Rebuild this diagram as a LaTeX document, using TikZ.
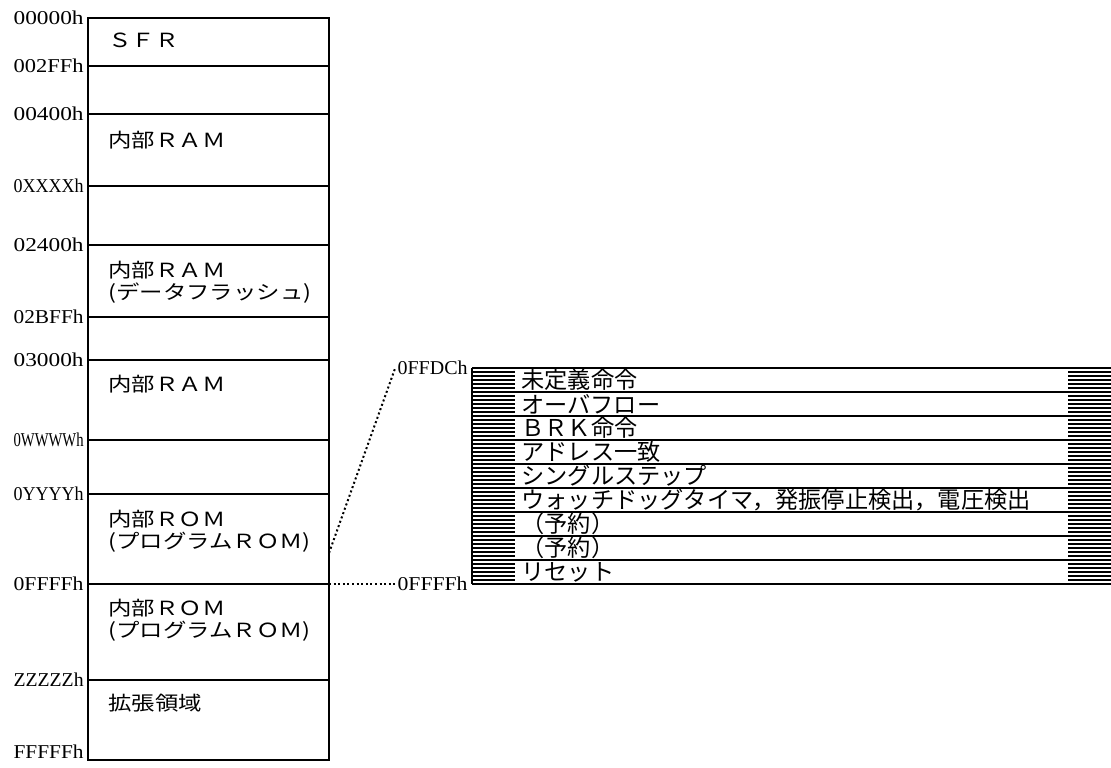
\documentclass[tikz,border=0pt]{standalone}
\usepackage{fontspec}
\usepackage{graphicx}
\setmainfont{Liberation Serif}
\newfontfamily\jpwide{Noto Sans CJK JP}[FakeStretch=1.2]
\newfontfamily\jpnorm{Noto Sans CJK JP}
\usetikzlibrary{calc}
\newcommand{\addrlabel}[1]{\resizebox{35pt}{6.8pt}{#1}}

\begin{document}
\begin{tikzpicture}[x=0.5pt,y=-0.5pt,
  addr/.style={anchor=east,inner sep=1pt,font=\fontsize{9.7}{11}\selectfont},
  area/.style={anchor=north west,inner sep=0pt,align=left,font=\jpwide\fontsize{9.75}{11}\selectfont},
  vect/.style={anchor=west,inner sep=0pt,font=\jpnorm\fontsize{11.6}{12}\selectfont},
  link/.style={line width=1pt,dash pattern=on 1pt off 1.3pt}]

\useasboundingbox (0,0) rectangle (1111,767);

% memory map
\draw[line width=0.8pt] (88,18) rectangle (329,760);
\foreach \y/\t [count=\i] in {18/00000h,66/002FFh,114/00400h,186/0XXXXh,245/02400h,317/02BFFh,
    360/03000h,440/0WWWWh,494/0YYYYh,584/0FFFFh,680/ZZZZZh} {
  \draw[line width=0.8pt] (88,\y) -- (329,\y);
  \node[addr] (a\i) at (86,\y) {\addrlabel{\t}};
}
\node[addr] (a12) at (86,752) {\addrlabel{FFFFFh}};

\node[area] (s1) at (108,33) {ＳＦＲ};
\node[area] (s2) at (108,131) {内部ＲＡＭ};
\node[area] (s3) at (108,261) {内部ＲＡＭ\\(データフラッシュ)};
\node[area] (s4) at (108,375) {内部ＲＡＭ};
\node[area] (s5) at (108,510) {内部ＲＯＭ\\(プログラムＲＯＭ)};
\node[area] (s6) at (108,599) {内部ＲＯＭ\\(プログラムＲＯＭ)};
\node[area] (s7) at (108,694) {拡張領域};

% vector table
\foreach \y in {372,376,...,580} {
  \draw[line width=0.7pt] (472,\y) -- (515,\y);
  \draw[line width=0.7pt] (1068,\y) -- (1111,\y);
}
\foreach \i in {0,...,9}
  \draw[line width=0.9pt] (472,{368+24*\i}) -- (1111,{368+24*\i});
\draw[line width=0.8pt] (472,368) -- (472,584);

\foreach \t [count=\i] in {未定義命令,オーバフロー,ＢＲＫ命令,アドレス一致,シングルステップ,
    ウォッチドッグタイマ，発振停止検出，電圧検出,（予約）,（予約）,リセット}
  \node[vect] (v\i) at (521,{356+24*\i}) {\t};

\node[addr] (r1) at (470,368) {\addrlabel{0FFDCh}};
\node[addr] (r2) at (470,584) {\addrlabel{0FFFFh}};
\coordinate (m1) at (329,553);
\coordinate (m2) at (329,584);

\path[link] (m1) edge (r1.west) (m2) edge (r2.west);

\end{tikzpicture}
\end{document}
